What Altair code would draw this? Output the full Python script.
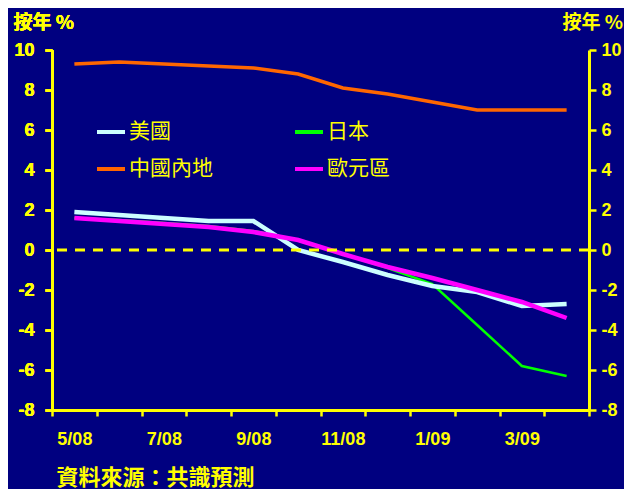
import altair as alt
import pandas as pd

# ---- data ----
months = ["5/08", "6/08", "7/08", "8/08", "9/08", "10/08", "11/08", "12/08", "1/09", "2/09", "3/09", "4/09"]
shown_labels = ["5/08", "7/08", "9/08", "11/08", "1/09", "3/09"]

japan = [1.6, 1.5, 1.35, 1.2, 0.95, 0.5, -0.2, -0.9, -1.7, -3.75, -5.8, -6.3]
us = [1.9, 1.75, 1.6, 1.45, 1.45, 0.0, -0.6, -1.25, -1.8, -2.1, -2.8, -2.7]
china = [9.3, 9.4, 9.3, 9.2, 9.1, 8.8, 8.1, 7.8, 7.4, 7.0, 7.0, 7.0]
euro = [1.6, 1.45, 1.3, 1.15, 0.9, 0.5, -0.2, -0.85, -1.4, -2.0, -2.6, -3.4]

series_draw_order = ["日本", "美國", "中國內地", "歐元區"]
series_line_widths = [2.5, 4.5, 3.5, 4.5]
legend_order = ["美國", "日本", "中國內地", "歐元區"]
legend_colors = ["#CCFFFF", "#00FF00", "#FF6600", "#FF00FF"]

y_ticks = [-8, -6, -4, -2, 0, 2, 4, 6, 8, 10]
y_domain = [-8, 10]
zero_line = [0]

y_title = "按年 %"
source_note = "資料來源：共識預測"

YELLOW = "#FFFF00"
BG = "#000080"
NUM_FONT = "Liberation Sans"
CJK_FONT = "Noto Sans CJK TC"

values_by_series = {"日本": japan, "美國": us, "中國內地": china, "歐元區": euro}
rows = []
for s in series_draw_order:
    for m, v in zip(months, values_by_series[s]):
        rows.append({"month": m, "series": s, "value": v})
df = pd.DataFrame(rows)

yscale = alt.Scale(domain=y_domain, nice=False, zero=False)

label_expr = "indexof(" + str(shown_labels) + ", datum.value) >= 0 ? datum.value : ''"

x_axis = alt.Axis(
    orient="bottom",
    tickBand="extent",
    labelExpr=label_expr,
    labelAngle=0,
    labelFont=NUM_FONT, labelFontSize=18, labelFontWeight="bold", labelColor=YELLOW,
    labelPadding=14,
    domainColor=YELLOW, domainWidth=3,
    tickColor=YELLOW, tickWidth=2.5, tickSize=6,
    grid=False,
    title=source_note,
    titleFont=CJK_FONT, titleFontSize=22, titleFontWeight="bold", titleColor=YELLOW,
    titleX=4, titleY=67, titleAlign="left", titleAnchor="start", titleBaseline="middle",
)

def y_axis(orient, pad, title_x):
    return alt.Axis(
        orient=orient,
        values=y_ticks,
        labelExpr="'' + datum.value",
        labelFont=NUM_FONT, labelFontSize=18, labelFontWeight="bold", labelColor=YELLOW,
        labelPadding=pad,
        domainColor=YELLOW, domainWidth=3,
        tickColor=YELLOW, tickWidth=2.5, tickSize=7,
        grid=False,
        title=y_title,
        titleFont=CJK_FONT, titleFontSize=19, titleFontWeight="bold", titleColor=YELLOW,
        titleAngle=0, titleX=title_x, titleY=-28, titleAlign="left", titleBaseline="middle",
    )

legend = alt.Legend(
    orient="none", legendX=43, legendY=66,
    columns=2, direction="horizontal",
    title=None,
    symbolType="stroke", symbolSize=784, symbolStrokeWidth=4,
    labelFont=CJK_FONT, labelFontSize=21, labelColor=YELLOW, labelOffset=2,
    columnPadding=74, rowPadding=11,
)

def line_layer(name, width):
    return alt.Chart(df).transform_filter(
        alt.datum.series == name
    ).mark_line(strokeWidth=width).encode(
        x=alt.X("month:N", sort=months,
                scale=alt.Scale(type="band", paddingInner=0, paddingOuter=0),
                bandPosition=0.5, axis=x_axis),
        y=alt.Y("value:Q", scale=yscale, axis=y_axis("left", 11, -39)),
        color=alt.Color("series:N", scale=alt.Scale(domain=legend_order, range=legend_colors), legend=legend),
    )

layers = [line_layer(n, w) for n, w in zip(series_draw_order, series_line_widths)]

rule = alt.Chart(pd.DataFrame({"z": zero_line})).mark_rule(
    color=YELLOW, strokeDash=[10, 8], strokeWidth=3
).encode(
    y=alt.Y("z:Q", scale=yscale, axis=y_axis("right", 5, -27))
)

chart = alt.layer(*layers, rule).resolve_axis(y="independent").properties(
    width=537, height=360,
    autosize=alt.AutoSizeParams(type="none"),
    padding={"left": 44, "top": 42, "right": 35, "bottom": 79},
    background=BG,
).configure_view(stroke=None)

chart.save("out.html", embed_options={"renderer": "svg", "actions": False})
